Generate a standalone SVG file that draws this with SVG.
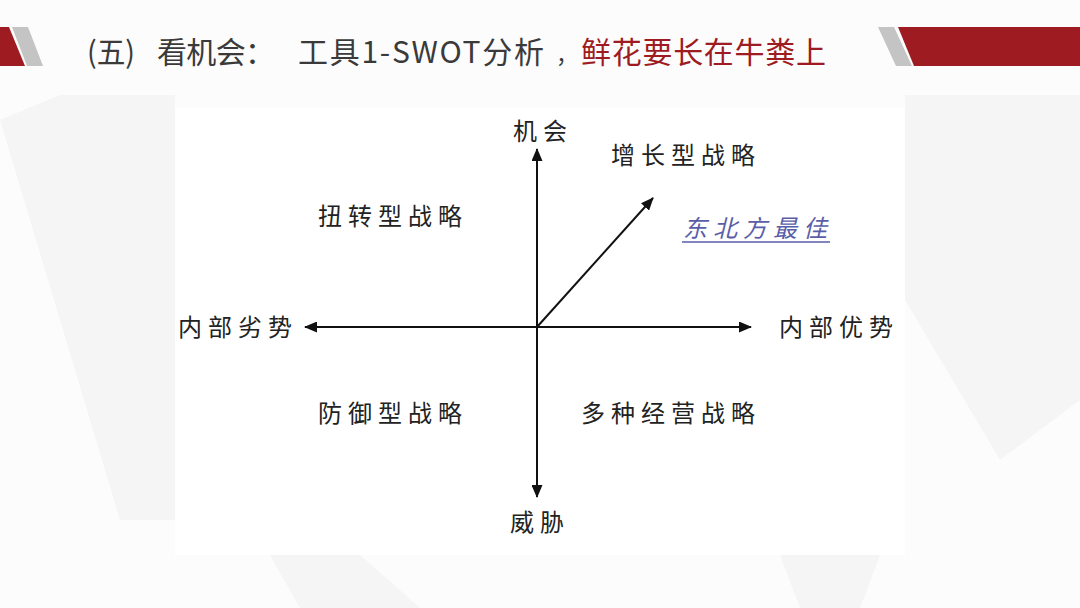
<svg xmlns="http://www.w3.org/2000/svg" width="1080" height="608" viewBox="0 0 1080 608">
<defs>
<style>
.bg{fill:#fcfcfc}
.wm{fill:#f5f5f5}
.red{fill:#9e1b22}
.grey{fill:#c4c4c4}
.title{font-family:"Noto Sans CJK SC","Liberation Sans",sans-serif;font-size:30px;fill:#3a3a3a}
.title-red{fill:#9e1b22}
.lbl{font-family:"Noto Sans CJK SC","Liberation Sans",sans-serif;font-size:24px;fill:#222;letter-spacing:6px}
.blue{fill:#5a5ea8;font-style:italic}
.axis{stroke:#111;stroke-width:2;fill:none}
</style>
<marker id="ah" viewBox="0 0 13 11" refX="12" refY="5.5" markerWidth="13" markerHeight="11" markerUnits="userSpaceOnUse" orient="auto">
<path d="M0,0 L13,5.5 L0,11 Z" fill="#111"/>
</marker>
</defs>
<rect class="bg" x="0" y="0" width="1080" height="608"/>
<g id="watermark">
<polygon class="wm" points="0,120 60,95 175,95 175,520 120,520"/>
<polygon class="wm" points="905,95 1080,95 1080,400 1000,460 905,300"/>
<polygon class="wm" points="270,555 360,555 420,608 300,608"/>
<polygon class="wm" points="780,555 880,555 860,608 800,608"/>
</g>
<rect x="175" y="108" width="730" height="447" fill="#ffffff"/>
<g id="header">
<polygon class="red" points="0,27 9,27 25,66 0,66"/>
<polygon class="grey" points="12,27 28,27 43,66 27,66"/>
<polygon class="grey" points="878,27 894,27 912,66 896,66"/>
<polygon class="red" points="898,27 1080,27 1080,66 914,66"/>
<text class="title" y="63"><tspan x="87" textLength="48" lengthAdjust="spacingAndGlyphs">(五)</tspan><tspan x="157" textLength="118">看机会：</tspan><tspan x="298" textLength="246">工具1-SWOT分析</tspan><tspan x="556" font-size="22">，</tspan><tspan x="581" textLength="245" class="title-red">鲜花要长在牛粪上</tspan></text>
</g>
<g id="connectors">
<line class="axis" x1="537" y1="327" x2="537" y2="149" marker-end="url(#ah)"/>
<line class="axis" x1="537" y1="327" x2="537" y2="497" marker-end="url(#ah)"/>
<line class="axis" x1="537" y1="327" x2="305" y2="327" marker-end="url(#ah)"/>
<line class="axis" x1="537" y1="327" x2="751" y2="327" marker-end="url(#ah)"/>
<line class="axis" x1="537" y1="327" x2="653" y2="198" marker-end="url(#ah)"/>
</g>
<g id="n-opportunity"><text class="lbl" x="513" y="140">机会</text></g>
<g id="n-threat"><text class="lbl" x="510" y="531">威胁</text></g>
<g id="n-weakness"><text class="lbl" x="178" y="336">内部劣势</text></g>
<g id="n-strength"><text class="lbl" x="779" y="336">内部优势</text></g>
<g id="n-growth"><text class="lbl" x="611" y="164">增长型战略</text></g>
<g id="n-turnaround"><text class="lbl" x="318" y="225">扭转型战略</text></g>
<g id="n-northeast"><text class="lbl blue" x="683" y="237">东北方最佳</text><line x1="682" y1="242" x2="830" y2="242" stroke="#5a5ea8" stroke-width="1.5"/></g>
<g id="n-defensive"><text class="lbl" x="318" y="422">防御型战略</text></g>
<g id="n-diversify"><text class="lbl" x="581" y="422">多种经营战略</text></g>
</svg>
